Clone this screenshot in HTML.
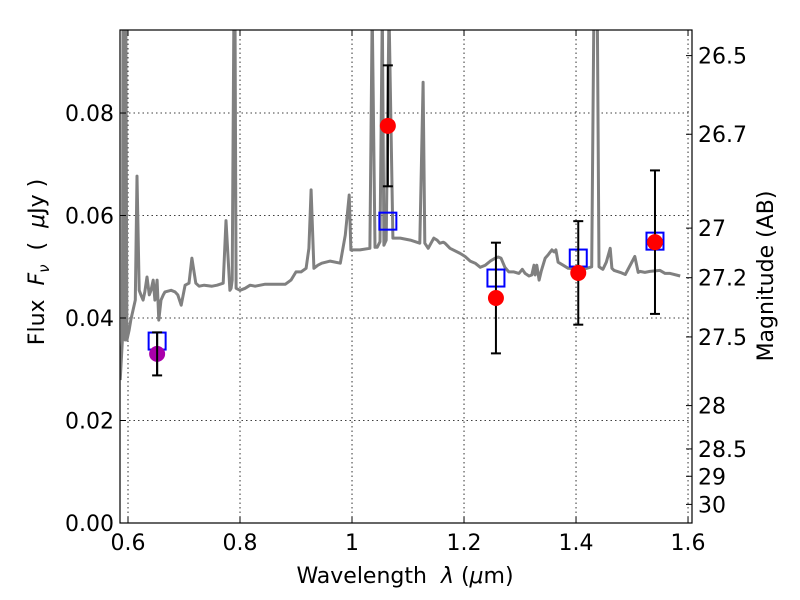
<!DOCTYPE html>
<html><head><meta charset="utf-8">
<style>
body{margin:0;background:#fff;}
svg{display:block;font-family:"DejaVu Sans","Liberation Sans",sans-serif;}
</style></head>
<body>
<svg id="chart" width="800" height="600">
<rect x="0" y="0" width="800" height="600" fill="#fff"/>
<g id="grid"></g>
<g id="plot"></g>
<g id="axes"></g>
<text x="405" y="583" font-size="22" text-anchor="middle" xml:space="preserve">Wavelength  <tspan font-style="italic">λ</tspan> (<tspan font-style="italic">μ</tspan>m)</text>
<text transform="translate(44,262) rotate(-90)" font-size="22" text-anchor="middle" xml:space="preserve">Flux  <tspan font-style="italic">F</tspan><tspan font-style="italic" font-size="15" dy="5">ν</tspan><tspan dy="-5">  (  </tspan><tspan font-style="italic">μ</tspan>Jy )</text>
<text transform="translate(773,276) rotate(-90)" font-size="22" text-anchor="middle">Magnitude (AB)</text>
</svg>
<script>
const specLam = [0.586,0.590,0.591,0.595,0.596,0.598,0.602,0.605,0.609,0.613,0.616,0.620,0.623,0.627,0.630,0.634,0.638,0.641,0.645,0.648,0.652,0.655,0.659,0.663,0.666,0.677,0.684,0.689,0.695,0.702,0.709,0.714,0.721,0.727,0.736,0.750,0.759,0.770,0.775,0.782,0.784,0.786,0.789,0.791,0.793,0.800,0.809,0.818,0.827,0.845,0.863,0.881,0.891,0.900,0.909,0.918,0.923,0.927,0.932,0.939,0.946,0.961,0.979,0.988,0.995,0.998,1.005,1.014,1.032,1.036,1.041,1.045,1.050,1.054,1.057,1.061,1.066,1.073,1.086,1.104,1.121,1.127,1.130,1.136,1.141,1.146,1.152,1.157,1.163,1.166,1.175,1.193,1.202,1.211,1.220,1.229,1.238,1.247,1.256,1.261,1.266,1.273,1.280,1.289,1.298,1.304,1.309,1.316,1.321,1.325,1.327,1.330,1.334,1.338,1.345,1.350,1.354,1.357,1.361,1.364,1.368,1.377,1.386,1.413,1.428,1.432,1.438,1.441,1.445,1.448,1.454,1.461,1.464,1.468,1.479,1.488,1.505,1.511,1.514,1.523,1.532,1.550,1.559,1.568,1.586,1.595,1.604];
const specFlux = [0.0279,0.0357,0.1000,0.0357,0.1000,0.0357,0.0376,0.0396,0.0415,0.0435,0.0677,0.0454,0.0445,0.0435,0.0451,0.0480,0.0445,0.0454,0.0474,0.0435,0.0474,0.0396,0.0435,0.0445,0.0451,0.0454,0.0451,0.0445,0.0425,0.0464,0.0468,0.0517,0.0468,0.0462,0.0464,0.0462,0.0464,0.0468,0.0590,0.0454,0.0458,0.0474,0.1000,0.1000,0.0458,0.0454,0.0458,0.0464,0.0462,0.0466,0.0466,0.0466,0.0474,0.0490,0.0490,0.0497,0.0536,0.0650,0.0497,0.0503,0.0507,0.0511,0.0507,0.0562,0.0640,0.0533,0.0533,0.0533,0.0536,0.1000,0.0538,0.0538,0.0549,0.1000,0.0542,0.0552,0.1000,0.0556,0.0556,0.0552,0.0546,0.0860,0.0546,0.0536,0.0546,0.0556,0.0552,0.0546,0.0548,0.0546,0.0536,0.0526,0.0520,0.0511,0.0507,0.0499,0.0503,0.0511,0.0517,0.0519,0.0517,0.0499,0.0490,0.0490,0.0487,0.0495,0.0487,0.0482,0.0484,0.0503,0.0484,0.0503,0.0474,0.0492,0.0517,0.0523,0.0529,0.0533,0.0529,0.0533,0.0509,0.0503,0.0497,0.0495,0.0500,0.1000,0.1000,0.0500,0.0497,0.0495,0.0509,0.0536,0.0497,0.0493,0.0489,0.0485,0.0520,0.0489,0.0491,0.0489,0.0491,0.0493,0.0487,0.0487,0.0482];

const photLam = [1.064,1.257,1.404,1.541];
const photFlux = [0.0775,0.0439,0.0488,0.0548];
const photErr = [0.0118,0.0108,0.0101,0.0140];
const purpleLam = [0.652];
const purpleFlux = [0.0330];
const purpleErr = [0.0042];
const modelLam = [0.652,1.064,1.257,1.404,1.541];
const modelFlux = [0.0355,0.0589,0.0478,0.0517,0.0550];

const xTicks = [0.6,0.8,1.0,1.2,1.4,1.6];
const xTickLabels = ["0.6","0.8","1","1.2","1.4","1.6"];
const yTicks = [0,0.02,0.04,0.06,0.08];
const yTickLabels = ["0.00","0.02","0.04","0.06","0.08"];
const magTicks = [26.5,26.7,27,27.2,27.5,28,28.5,29,30];
const magTickLabels = ["26.5","26.7","27","27.2","27.5","28","28.5","29","30"];

const L=120,R=692,T=30,B=523;
const xmin=0.5857,xmax=1.6071,ymin=0,ymax=0.0962;
const sx=v=>L+(v-xmin)/(xmax-xmin)*(R-L);
const sy=v=>B-(v-ymin)/(ymax-ymin)*(B-T);
const magToFlux=m=>Math.pow(10,(23.9-m)/2.5);
const NS="http://www.w3.org/2000/svg";
function mk(tag,parent,attrs){const e=document.createElementNS(NS,tag);for(const k in attrs)e.setAttribute(k,attrs[k]);parent.appendChild(e);return e;}
const grid=document.getElementById('grid'),plot=document.getElementById('plot'),axes=document.getElementById('axes');

const defs=mk('defs',document.getElementById('chart'),{});
const cp=mk('clipPath',defs,{id:'clip'});
mk('rect',cp,{x:L,y:T,width:R-L,height:B-T});
plot.setAttribute('clip-path','url(#clip)');

xTicks.forEach((v,i)=>{
  const g=mk('line',grid,{x1:sx(v),x2:sx(v),y1:T,y2:B,stroke:'#000','stroke-width':0.8,'stroke-dasharray':'1.5,3'});
  
  
  mk('line',axes,{x1:sx(v),x2:sx(v),y1:B,y2:B-6,stroke:'#000'});
  mk('line',axes,{x1:sx(v),x2:sx(v),y1:T,y2:T+6,stroke:'#000'});
  const t=mk('text',axes,{x:sx(v),y:B+27,'font-size':22,'text-anchor':'middle'});
  t.textContent=xTickLabels[i];
  
  
});
yTicks.forEach((v,i)=>{
  const g=mk('line',grid,{x1:L,x2:R,y1:sy(v),y2:sy(v),stroke:'#000','stroke-width':0.8,'stroke-dasharray':'1.5,3'});
  
  
  mk('line',axes,{x1:L,x2:L+6,y1:sy(v),y2:sy(v),stroke:'#000'});
  const t=mk('text',axes,{x:L-6,y:sy(v)+8,'font-size':22,'text-anchor':'end'});
  t.textContent=yTickLabels[i];
  
  
});
magTicks.forEach((m,i)=>{
  const y=sy(magToFlux(m));
  mk('line',axes,{x1:R,x2:R-6,y1:y,y2:y,stroke:'#000'});
  const t=mk('text',axes,{x:R+6,y:y+8,'font-size':22,'text-anchor':'start'});
  t.textContent=magTickLabels[i];
  
  
});

let d='';
specLam.forEach((l,i)=>{d+=(i?'L':'M')+sx(l).toFixed(1)+','+sy(specFlux[i]).toFixed(1);});
const sp=mk('path',plot,{d:d,fill:'none',stroke:'#808080','stroke-width':3,'stroke-linejoin':'round'});



function errbar(l,f,e){
  const x=sx(l);
  mk('line',plot,{x1:x,x2:x,y1:sy(f-e),y2:sy(f+e),stroke:'#000','stroke-width':2});
  mk('line',plot,{x1:x-5,x2:x+5,y1:sy(f-e),y2:sy(f-e),stroke:'#000','stroke-width':2});
  mk('line',plot,{x1:x-5,x2:x+5,y1:sy(f+e),y2:sy(f+e),stroke:'#000','stroke-width':2});
}
modelLam.forEach((l,i)=>{
  const r=mk('rect',plot,{x:sx(l)-8.5,y:sy(modelFlux[i])-8.5,width:17,height:17,fill:'none',stroke:'#0000ff','stroke-width':2});
  
  
});
purpleLam.forEach((l,i)=>{
  errbar(l,purpleFlux[i],purpleErr[i]);
  const c=mk('circle',plot,{cx:sx(l),cy:sy(purpleFlux[i]),r:8,fill:'#aa00aa'});
  
  
  mk('line',plot,{x1:sx(l),x2:sx(l),y1:sy(purpleFlux[i]-purpleErr[i]),y2:sy(purpleFlux[i]+purpleErr[i]),stroke:'#000','stroke-width':2});
});
photLam.forEach((l,i)=>{
  errbar(l,photFlux[i],photErr[i]);
  const c=mk('circle',plot,{cx:sx(l),cy:sy(photFlux[i]),r:8,fill:'#ff0000'});
  
  
});
const fr=mk('rect',axes,{x:L,y:T,width:R-L,height:B-T,fill:'none',stroke:'#000','stroke-width':1.2});


</script>
</body></html>
